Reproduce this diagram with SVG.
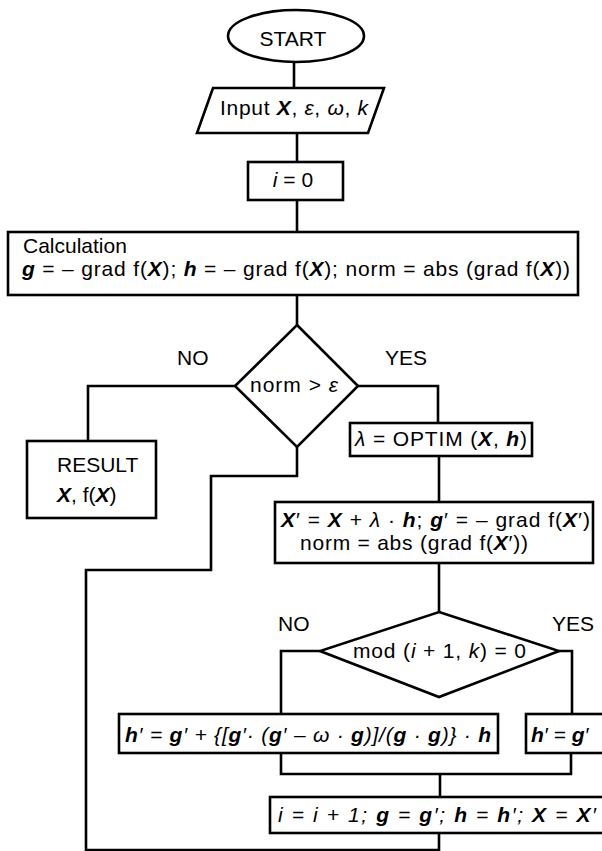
<svg xmlns="http://www.w3.org/2000/svg" width="602" height="851" viewBox="0 0 602 851">
<style>
.s{fill:none;stroke:#000;stroke-width:2.6;stroke-linejoin:miter}
.b{fill:#fff;stroke:#000;stroke-width:2.6}
text{font-family:"Liberation Sans",Arial,Helvetica,sans-serif;font-size:21px;fill:#000}
.v{font-weight:bold;font-style:italic}
.i{font-style:italic}
</style>
<rect width="602" height="851" fill="#fff"/>
<g id="connectors">
<path class="s" d="M294 62V88"/>
<path class="s" d="M297 133V162"/>
<path class="s" d="M297 200V232"/>
<path class="s" d="M297 295V325"/>
<path class="s" d="M235 386H88V441"/>
<path class="s" d="M358 386H438V423"/>
<path class="s" d="M297 447V476H211V570H86V850H439V833"/>
<path class="s" d="M439 456V502"/>
<path class="s" d="M439 563V612"/>
<path class="s" d="M320 651H281V714"/>
<path class="s" d="M559 651H572V714"/>
<path class="s" d="M281 753V774H571V753"/>
<path class="s" d="M440 774V797"/>
</g>
<g id="start">
<ellipse class="b" cx="296" cy="36" rx="68" ry="26"/>
<text x="293" y="46" text-anchor="middle">START</text>
</g>
<g id="input">
<polygon class="b" points="213,88 384,88 368,133 197,133"/>
<text x="220" y="115" textLength="148" lengthAdjust="spacing">Input <tspan class="v">X</tspan>, <tspan class="i">ε</tspan>, <tspan class="i">ω</tspan>, <tspan class="i">k</tspan></text>
</g>
<g id="init">
<rect class="b" x="248" y="162" width="95" height="38"/>
<text x="293" y="187" text-anchor="middle"><tspan class="i">i</tspan> = 0</text>
</g>
<g id="calc">
<rect class="b" x="8" y="232" width="570" height="63"/>
<text x="23" y="253">Calculation</text>
<text x="22" y="276" textLength="548" lengthAdjust="spacing"><tspan class="v">g</tspan> = – grad f(<tspan class="v">X</tspan>); <tspan class="v">h</tspan> = – grad f(<tspan class="v">X</tspan>); norm = abs (grad f(<tspan class="v">X</tspan>))</text>
</g>
<g id="dec1">
<polygon class="b" points="297,325 358,386 297,447 235,386"/>
<text x="250" y="392" textLength="88" lengthAdjust="spacing">norm &gt; <tspan class="i">ε</tspan></text>
<text x="177" y="365">NO</text>
<text x="385" y="365">YES</text>
</g>
<g id="result">
<rect class="b" x="27" y="441" width="129" height="77"/>
<text x="57" y="472">RESULT</text>
<text x="57" y="502"><tspan class="v">X</tspan>, f(<tspan class="v">X</tspan>)</text>
</g>
<g id="optim">
<rect class="b" x="350" y="423" width="182" height="33"/>
<text x="355" y="446" textLength="172" lengthAdjust="spacing"><tspan class="i">λ</tspan> = OPTIM (<tspan class="v">X</tspan>, <tspan class="v">h</tspan>)</text>
</g>
<g id="update">
<rect class="b" x="275" y="502" width="318" height="61"/>
<text x="281" y="527" textLength="309" lengthAdjust="spacing"><tspan class="v">X</tspan>′ = <tspan class="v">X</tspan> + <tspan class="i">λ</tspan> · <tspan class="v">h</tspan>; <tspan class="v">g</tspan>′ = – grad f(<tspan class="v">X</tspan>′)</text>
<text x="300" y="550" textLength="228" lengthAdjust="spacing">norm = abs (grad f(<tspan class="v">X</tspan>′))</text>
</g>
<g id="dec2">
<polygon class="b" points="439,612 559,651 439,697 320,651"/>
<text x="353" y="658" textLength="173" lengthAdjust="spacing">mod (<tspan class="i">i</tspan> + 1, <tspan class="i">k</tspan>) = 0</text>
<text x="278" y="631">NO</text>
<text x="552" y="631">YES</text>
</g>
<g id="hconj">
<rect class="b" x="119" y="714" width="379" height="39"/>
<text x="125" y="742" textLength="366" lengthAdjust="spacing" class="i"><tspan class="v">h</tspan>′ = <tspan class="v">g</tspan>′ + {[<tspan class="v">g</tspan>′· (<tspan class="v">g</tspan>′ – ω · <tspan class="v">g</tspan>)]/(<tspan class="v">g</tspan> · <tspan class="v">g</tspan>)} · <tspan class="v">h</tspan></text>
</g>
<g id="hreset">
<rect class="b" x="526" y="714" width="90" height="39"/>
<text x="531" y="742" class="i"><tspan class="v">h</tspan>′ = <tspan class="v">g</tspan>′</text>
</g>
<g id="incr">
<rect class="b" x="270" y="797" width="346" height="36"/>
<text x="278" y="822" textLength="318" lengthAdjust="spacing" class="i">i = i + 1; <tspan class="v">g</tspan> = <tspan class="v">g</tspan>′; <tspan class="v">h</tspan> = <tspan class="v">h</tspan>′; <tspan class="v">X</tspan> = <tspan class="v">X</tspan>′</text>
</g>
</svg>
